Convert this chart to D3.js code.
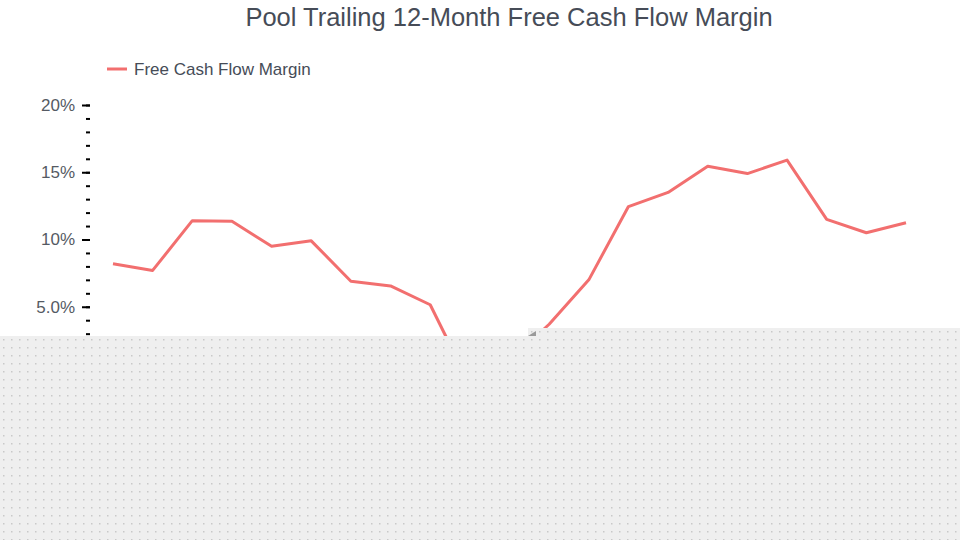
<!DOCTYPE html>
<html>
<head>
<meta charset="utf-8">
<script src="https://cdn.jsdelivr.net/npm/d3@7"></script>
<style>
  body { margin: 0; background: #fff; }
  svg { display: block; font-family: "Liberation Sans", Arial, sans-serif; }
</style>
</head>
<body>
<script>
// quarters (x axis itself is covered by the overlay)
const quarters = [
  "Q1 2019", "Q2 2019", "Q3 2019", "Q4 2019",
  "Q1 2020", "Q2 2020", "Q3 2020", "Q4 2020",
  "Q1 2021", "Q2 2021", "Q3 2021", "Q4 2021",
  "Q1 2022", "Q2 2022", "Q3 2022", "Q4 2022",
  "Q1 2023", "Q2 2023", "Q3 2023", "Q4 2023",
  "Q1 2024"
];
// free cash flow margin, %
const fcfMargin = [
  8.2, 7.7, 11.4, 11.35, 9.5, 9.9, 6.9, 6.55, 5.15, -0.8, 1.0,
  3.7, 7.0, 12.45, 13.5, 15.45, 14.9, 15.9, 11.5, 10.5, 11.25
];
const yTicks = [5, 10, 15, 20];
const yMinorTicks = d3.range(3, 21, 1);

const W = 960, H = 540;
const lineColor = "#f26f6f";
const textColor = "#464c57";

const svg = d3.select("body").append("svg")
  .attr("width", W)
  .attr("height", H);

const x = d3.scalePoint().domain(quarters).range([113, 906]);
const y = d3.scaleLinear().domain([0, 20]).range([374, 105]);

// title
svg.append("text")
  .attr("x", 509)
  .attr("y", 26)
  .attr("text-anchor", "middle")
  .attr("font-size", 25.5)
  .attr("fill", textColor)
  .text("Pool Trailing 12-Month Free Cash Flow Margin");

// legend
svg.append("line")
  .attr("x1", 107).attr("x2", 127)
  .attr("y1", 69).attr("y2", 69)
  .attr("stroke", lineColor)
  .attr("stroke-width", 3);
svg.append("text")
  .attr("x", 134)
  .attr("y", 75)
  .attr("font-size", 17)
  .attr("fill", textColor)
  .text("Free Cash Flow Margin");

// minor ticks
svg.append("g")
  .attr("transform", "translate(90,0)")
  .call(d3.axisLeft(y).tickValues(yMinorTicks).tickSize(4).tickFormat(""))
  .call(g => g.select(".domain").remove())
  .call(g => g.selectAll("line").attr("stroke", "#000").attr("stroke-width", 2));

// major ticks + labels
const fmt = d3.format(".2r");
svg.append("g")
  .attr("transform", "translate(90,0)")
  .call(d3.axisLeft(y).tickValues(yTicks).tickSize(8).tickPadding(7)
    .tickFormat(d => fmt(d) + "%"))
  .call(g => g.select(".domain").remove())
  .call(g => g.selectAll("line").attr("stroke", "#000").attr("stroke-width", 2))
  .call(g => g.selectAll("text")
    .attr("font-size", 17)
    .attr("fill", "#555a63")
    .attr("font-family", "Liberation Sans, Arial, sans-serif"));

// the line
const line = d3.line()
  .x((d, i) => x(quarters[i]))
  .y(d => y(d));

svg.append("path")
  .datum(fcfMargin)
  .attr("d", line)
  .attr("fill", "none")
  .attr("stroke", lineColor)
  .attr("stroke-width", 3)
  .attr("stroke-linejoin", "round");

// dotted overlay covering the lower part
const defs = svg.append("defs");
const pat = defs.append("pattern")
  .attr("id", "dots")
  .attr("patternUnits", "userSpaceOnUse")
  .attr("width", 8)
  .attr("height", 8);
pat.append("rect").attr("width", 8).attr("height", 8).attr("fill", "#efefef");
pat.append("rect").attr("x", 3).attr("y", 3).attr("width", 1.5).attr("height", 1.5).attr("fill", "#c9c9c9");

svg.append("rect")
  .attr("x", 0).attr("y", 336)
  .attr("width", 530).attr("height", H - 336)
  .attr("fill", "url(#dots)");
svg.append("rect")
  .attr("x", 528).attr("y", 328)
  .attr("width", W - 528).attr("height", H - 328)
  .attr("fill", "url(#dots)");
svg.append("path")
  .attr("d", "M528,336 L536,331 L536,336 Z")
  .attr("fill", "#9a9a9a");
</script>
</body>
</html>
